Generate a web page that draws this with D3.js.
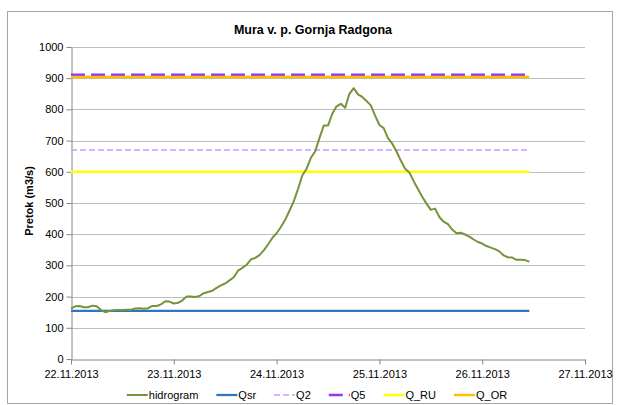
<!DOCTYPE html>
<html>
<head>
<meta charset="utf-8">
<script src="https://cdn.jsdelivr.net/npm/d3@7"></script>
<style>
  html, body { margin: 0; padding: 0; background: #fff; }
  svg { display: block; }
</style>
</head>
<body>
<svg id="chart" width="619" height="405"></svg>
<script>
// ---- data ----
const chartTitle = "Mura v. p. Gornja Radgona";
const yAxisTitle = "Pretok (m3/s)";
const startTime = "2013-11-22T00:00:00Z";   // first hourly reading
const xTickLabels = ["22.11.2013", "23.11.2013", "24.11.2013", "25.11.2013", "26.11.2013", "27.11.2013"];
const yTickValues = [0, 100, 200, 300, 400, 500, 600, 700, 800, 900, 1000];
// hourly discharge (m3/s)
const hidrogram = [
  162, 169, 170, 166, 166, 171, 169, 157, 150, 154, 156, 157,
  157, 158, 158, 162, 163, 161, 163, 170, 170, 175, 185, 184,
  178, 180, 188, 200, 200, 199, 202, 211, 215, 219, 228, 236,
  242, 252, 262, 283, 292, 302, 319, 324, 333, 348, 367, 388,
  403, 423, 446, 475, 505, 545, 588, 610, 645, 665, 708, 748,
  748, 786, 810, 818, 805, 850, 868, 848, 840, 827, 813, 780,
  750, 740, 708, 690, 665, 636, 610, 598, 570, 545, 520, 498,
  478, 482, 455, 440, 432, 415, 403, 405, 399, 392, 383, 375,
  370, 362, 357, 352, 345, 332, 326, 325, 318, 318, 317, 312
];
const seriesNames = ["hidrogram", "Qsr", "Q2", "Q5", "Q_RU", "Q_OR"];
const refNames = ["Qsr", "Q2", "Q5", "Q_RU", "Q_OR"];
const refValues = [154, 670, 911, 600, 904];

// ---- styles ----
const styles = {
  hidrogram: { color: "#77933C", width: 2, dash: null },
  Qsr:  { color: "#2E75C2", width: 2.25, dash: null },
  Q2:   { color: "#CC99FF", width: 1.5, dash: "6,3" },
  Q5:   { color: "#9933FF", width: 2.5, dash: "14,6" },
  Q_RU: { color: "#FFFF00", width: 2.5, dash: null },
  Q_OR: { color: "#FFC000", width: 2.5, dash: null }
};

const svg = d3.select("#chart");
const font = "'Liberation Sans', Arial, sans-serif";

// outer border
svg.append("rect").attr("x", 7.5).attr("y", 11.5).attr("width", 605).attr("height", 392)
  .attr("fill", "#fff").attr("stroke", "#A6A6A6").attr("stroke-width", 1);

const plot = { left: 71, right: 585, top: 47, bottom: 359 };
const parseDay = d3.utcParse("%d.%m.%Y");
const t0 = new Date(startTime);
const times = hidrogram.map((_, i) => new Date(t0.getTime() + i * 3600 * 1000));

const x = d3.scaleUtc()
  .domain([parseDay(xTickLabels[0]), parseDay(xTickLabels[xTickLabels.length - 1])])
  .range([plot.left, plot.right]);
const y = d3.scaleLinear().domain([0, 1000]).range([plot.bottom, plot.top]);

// gridlines
svg.append("g").selectAll("line").data(yTickValues.filter(v => v > 0)).join("line")
  .attr("x1", plot.left).attr("x2", plot.right)
  .attr("y1", d => Math.round(y(d)) + 0.5).attr("y2", d => Math.round(y(d)) + 0.5)
  .attr("stroke", "#BDBDBD").attr("stroke-width", 1);

// y axis
const yAxis = svg.append("g").attr("transform", `translate(${plot.left + 0.5},0)`)
  .call(d3.axisLeft(y).tickValues(yTickValues).tickFormat(d3.format("d"))
    .tickSize(5).tickSizeOuter(0).tickPadding(3));
yAxis.select(".domain").attr("stroke", "#868686");
yAxis.selectAll(".tick line").attr("stroke", "#868686");
yAxis.selectAll("text").attr("font-family", font).attr("font-size", 11).attr("fill", "#000");

// x axis
const xAxis = svg.append("g").attr("transform", `translate(0,${plot.bottom + 0.5})`)
  .call(d3.axisBottom(x).tickValues(xTickLabels.map(parseDay))
    .tickFormat(d3.utcFormat("%d.%m.%Y")).tickSize(5).tickSizeOuter(0).tickPadding(6));
xAxis.select(".domain").attr("stroke", "#868686");
xAxis.selectAll(".tick line").attr("stroke", "#868686");
xAxis.selectAll("text").attr("font-family", font).attr("font-size", 11).attr("fill", "#000");

// reference lines (constant series over same time span)
const tStart = times[0], tEnd = times[times.length - 1];
const line = d3.line().x(d => x(d[0])).y(d => y(d[1]));
refNames.forEach((name, i) => {
  const st = styles[name];
  svg.append("path")
    .datum([[tStart, refValues[i]], [tEnd, refValues[i]]])
    .attr("d", line).attr("fill", "none")
    .attr("stroke", st.color).attr("stroke-width", st.width)
    .attr("stroke-dasharray", st.dash);
});

// hydrograph
svg.append("path")
  .datum(hidrogram.map((v, i) => [times[i], v]))
  .attr("d", line).attr("fill", "none")
  .attr("stroke", styles.hidrogram.color).attr("stroke-width", styles.hidrogram.width)
  .attr("stroke-linejoin", "round");

// title
svg.append("text").attr("x", 313).attr("y", 34).attr("text-anchor", "middle")
  .attr("font-family", font).attr("font-weight", "bold").attr("font-size", 12.5)
  .text(chartTitle);

// y axis title
svg.append("text").attr("transform", "translate(33,201) rotate(-90)")
  .attr("text-anchor", "middle").attr("font-family", font).attr("font-weight", "bold")
  .attr("font-size", 11).text(yAxisTitle);

// legend
const legend = svg.append("g");
let cx = 0;
seriesNames.forEach(name => {
  const st = styles[name];
  const g = legend.append("g").attr("transform", `translate(${cx},0)`);
  g.append("line").attr("x1", 0).attr("x2", 21).attr("y1", 0).attr("y2", 0)
    .attr("stroke", st.color).attr("stroke-width", st.width).attr("stroke-dasharray", st.dash);
  const tx = g.append("text").attr("x", 22).attr("y", 4).attr("font-family", font)
    .attr("font-size", 11).text(name);
  cx += 22 + tx.node().getComputedTextLength() + 18;
});
const legendWidth = cx - 18;
legend.attr("transform", `translate(${317 - legendWidth / 2},395)`);
</script>
</body>
</html>
